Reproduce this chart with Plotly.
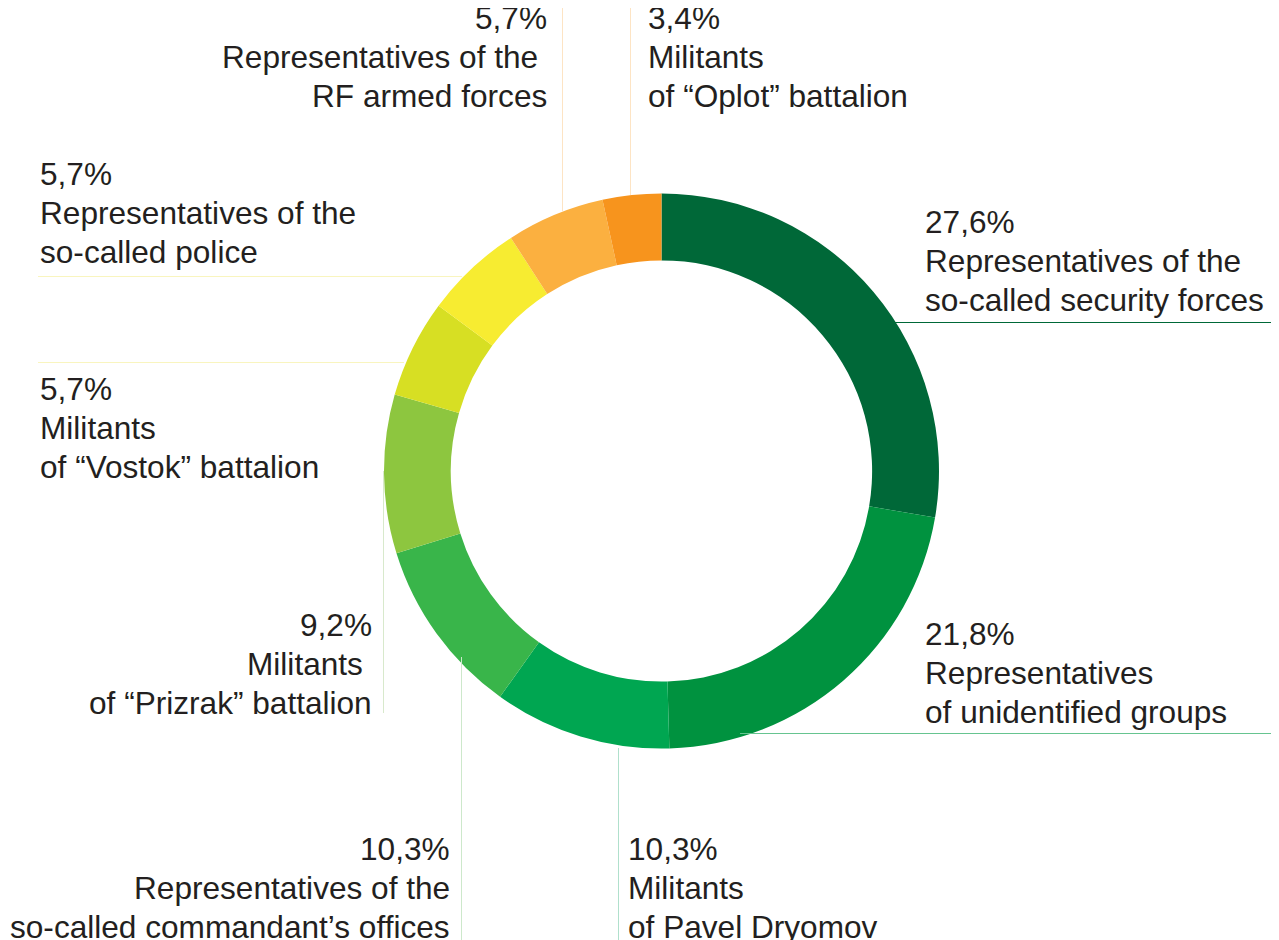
import plotly.graph_objects as go

W, H = 1279, 940
OFF = 8  # the page body has an 8px margin

# slices, clockwise from 12 o'clock
values = [27.6, 21.8, 10.3, 10.3, 9.2, 5.7, 5.7, 5.7, 3.4]
pct_labels = ["27,6%", "21,8%", "10,3%", "10,3%", "9,2%", "5,7%", "5,7%", "5,7%", "3,4%"]
names = [
    ["Representatives of the", "so-called security forces"],
    ["Representatives", "of unidentified groups"],
    ["Militants", "of Pavel Dryomov"],
    ["Representatives of the", "so-called commandant’s offices"],
    ["Militants\u00a0", "of “Prizrak” battalion"],
    ["Militants", "of “Vostok” battalion"],
    ["Representatives of the", "so-called police"],
    ["Representatives of the\u00a0", "RF armed forces"],
    ["Militants", "of “Oplot” battalion"],
]
colors = ["#006838", "#00923f", "#00a651", "#39b54a", "#8dc63f",
          "#d7df23", "#f7ec31", "#fbb040", "#f7941d"]
line_colors = ["#006838", "#66c490", "#b0e0cc", "#cde8cb", "#d8e9cc",
               "#f9f5bf", "#f9f5bf", "#fde4c4", "#fde4c4"]

# label placement (px from top-left of the window): x, first line y, anchor
label_pos = [
    (923, 222, "left"), (923, 634, "left"), (626, 849, "left"),
    (452, 849, "right"), (374, 625, "right"), (38, 389, "left"),
    (38, 174, "left"), (549, 18, "right"), (646, 18, "left"),
]
# leader lines (px): x0, y0, x1, y1
leaders = [
    (895, 322.5, 1290, 322.5), (740, 733.5, 1290, 733.5), (618.5, 748, 618.5, 950),
    (461.5, 657, 461.5, 950), (383.5, 471, 383.5, 713), (38, 362.5, 404, 362.5),
    (38, 276.5, 462, 276.5), (562.5, -10, 562.5, 212), (630.5, -10, 630.5, 195),
]

cx, cy, r = 661.5, 471, 277.5
LINE_H = 39

px = lambda x: (x - OFF) / W
py = lambda y: 1 - (y - OFF) / H

fig = go.Figure(go.Pie(
    values=values, sort=False, direction="clockwise", rotation=0,
    hole=0.759, marker=dict(colors=colors, line=dict(width=0)),
    textinfo="none", hoverinfo="skip",
    domain=dict(x=[px(cx - r), px(cx + r)], y=[py(cy + r), py(cy - r)]),
))

shapes = []
for (x0, y0, x1, y1), c in zip(leaders, line_colors):
    shapes.append(dict(type="line", xref="paper", yref="paper",
                       x0=px(x0), y0=py(y0), x1=px(x1), y1=py(y1),
                       line=dict(color=c, width=1)))

annotations = []
for pct, nm, (x, y, anc) in zip(pct_labels, names, label_pos):
    for i, t in enumerate([pct] + nm):
        annotations.append(dict(
            text=t, x=px(x), y=py(y + i * LINE_H), xref="paper", yref="paper",
            xanchor=anc, yanchor="middle", showarrow=False, align=anc,
            font=dict(family="Liberation Sans, Arial, sans-serif", size=31.6, color="#231f20"),
        ))

fig.update_layout(
    width=W, height=H, margin=dict(l=0, r=0, t=0, b=0),
    paper_bgcolor="white", plot_bgcolor="white",
    showlegend=False, shapes=shapes, annotations=annotations,
)
fig.write_html("out.html")
